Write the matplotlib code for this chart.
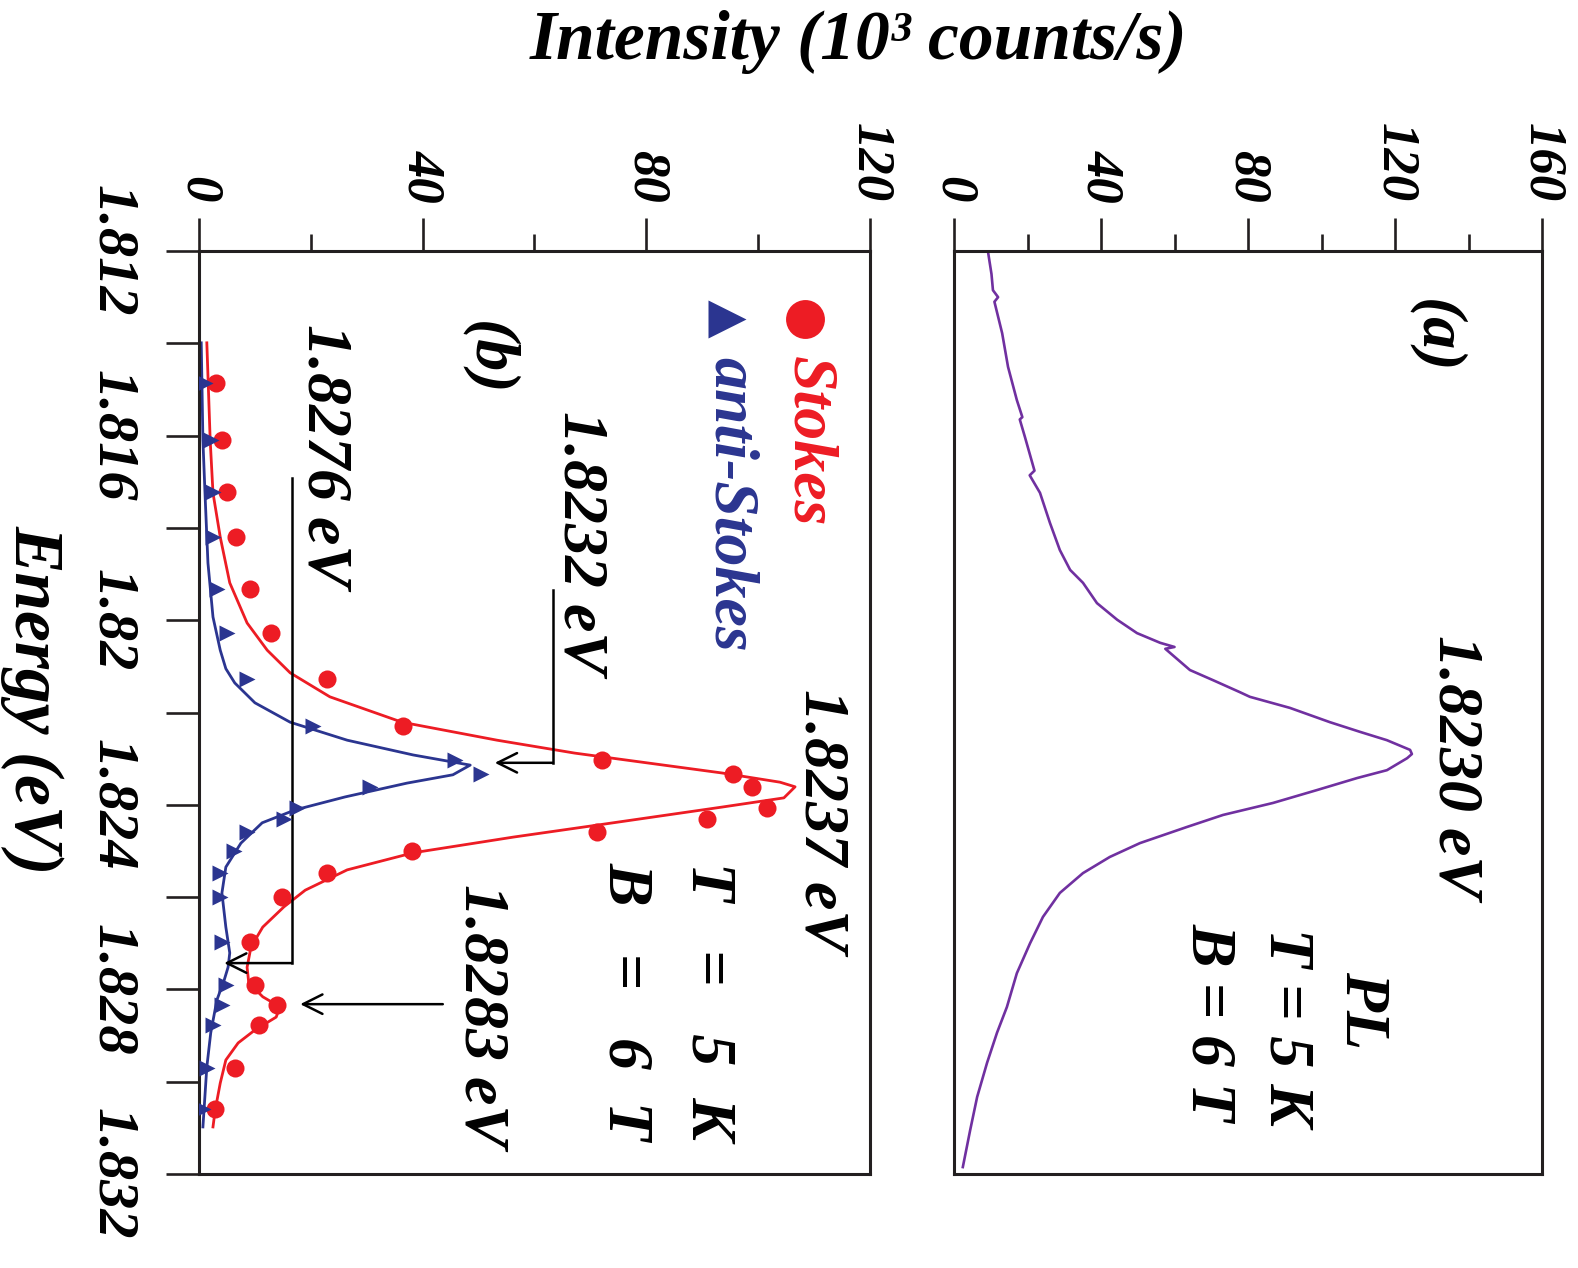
import matplotlib
matplotlib.use("Agg")
import matplotlib.pyplot as plt
from matplotlib.ticker import MultipleLocator, FixedLocator

plt.rcParams['font.family'] = ['Liberation Serif', 'DejaVu Serif']
plt.rcParams['font.weight'] = 'bold'
plt.rcParams['font.style'] = 'italic'

# ---------------- data ----------------
# panel (a): PL spectrum
pl_energy = [1.81204, 1.81250, 1.81285, 1.81300, 1.81310, 1.81378, 1.81451, 1.81523,
             1.81560, 1.81565, 1.81603, 1.81676, 1.81686, 1.81724, 1.81789, 1.81848,
             1.81891, 1.81919, 1.81963, 1.81999, 1.82028, 1.82049, 1.82058, 1.82062,
             1.82108, 1.82130, 1.82156, 1.82166, 1.82190, 1.82221, 1.82242, 1.82260,
             1.82281, 1.82290, 1.82299, 1.82325, 1.82342, 1.82368, 1.82396, 1.82422,
             1.82448, 1.82483, 1.82513, 1.82548, 1.82591, 1.82643, 1.82700, 1.82765,
             1.82838, 1.82894, 1.82959, 1.83033, 1.83105, 1.83185]
pl_intensity = [9.3, 10.2, 10.6, 12.0, 11.0, 13.1, 14.7, 17.1,
                18.6, 17.9, 19.3, 21.9, 20.6, 23.4, 26.1, 28.8,
                31.6, 35.1, 38.9, 44.4, 49.8, 56.1, 60.0, 57.5,
                64.2, 70.5, 77.8, 80.5, 91.4, 102.3, 110.5, 117.8,
                124.1, 124.6, 123.3, 117.8, 109.7, 98.8, 86.8, 73.2,
                63.4, 50.6, 42.4, 35.1, 28.8, 24.2, 20.7, 17.1,
                14.4, 11.7, 9.0, 6.3, 4.4, 2.4]

# panel (b): Raman data points
pt_energy = [1.81486, 1.81610, 1.81722, 1.81820, 1.81932, 1.82028, 1.82127, 1.82229,
             1.82303, 1.82333, 1.82361, 1.82407, 1.82431, 1.82459, 1.82500, 1.82548,
             1.82600, 1.82697, 1.82790, 1.82834, 1.82877, 1.82970, 1.83059]
stokes = [3.0, 4.1, 5.0, 6.6, 9.1, 12.9, 22.9, 36.5,
          72.1, 95.5, 98.9, 101.6, 90.8, 71.2, 38.1, 22.9,
          14.8, 9.1, 10.0, 13.9, 10.7, 6.4, 2.9]
anti_stokes = [1.1, 2.1, 2.5, 2.5, 3.2, 5.0, 8.6, 20.4,
               45.8, 50.4, 30.6, 17.5, 15.2, 8.6, 6.3, 3.8,
               3.8, 4.1, 4.8, 4.1, 2.5, 1.4, 0.7]

# panel (b): fitted curves
stokes_fit_energy = [1.81399, 1.81610, 1.81724, 1.81820, 1.81919, 1.82006, 1.82065, 1.82114,
                     1.82166, 1.82221, 1.82260, 1.82288, 1.82331, 1.82351, 1.82361, 1.82385,
                     1.82405, 1.82444, 1.82470, 1.82504, 1.82541, 1.82585, 1.82621, 1.82665,
                     1.82708, 1.82752, 1.82786, 1.82816, 1.82838, 1.82860, 1.82888, 1.82916,
                     1.82953, 1.83003, 1.83061, 1.83098]
stokes_fit = [1.4, 2.0, 2.5, 3.8, 5.5, 8.6, 12.2, 16.3,
              23.4, 36.3, 53.3, 67.2, 93.5, 103.9, 106.6, 104.6,
              93.5, 71.2, 56.2, 38.3, 26.5, 19.0, 15.2, 11.4,
              9.3, 8.6, 8.9, 11.4, 14.5, 13.8, 10.0, 7.0,
              4.8, 3.8, 2.9, 2.5]
anti_fit_energy = [1.81399, 1.81610, 1.81733, 1.81876, 1.81993, 1.82065, 1.82105, 1.82136,
                   1.82179, 1.82221, 1.82260, 1.82292, 1.82314, 1.82335, 1.82353, 1.82383,
                   1.82411, 1.82439, 1.82483, 1.82535, 1.82591, 1.82665, 1.82721, 1.82752,
                   1.82780, 1.82823, 1.82894, 1.82968, 1.83098]
anti_fit = [0.4, 0.7, 1.1, 1.6, 2.5, 3.8, 4.8, 6.4,
            10.0, 16.3, 26.5, 38.3, 48.5, 45.4, 37.2, 26.1,
            17.2, 11.3, 7.5, 4.8, 4.1, 4.8, 5.5, 5.2,
            4.5, 3.2, 2.1, 1.4, 0.7]

energy_ticks = [1.812, 1.816, 1.820, 1.824, 1.828, 1.832]
energy_labels = ['1.812', '1.816', '1.82', '1.824', '1.828', '1.832']

RED = '#ED1C24'
BLUE = '#2B3590'
PURPLE = '#7030A0'
INK = '#231F20'

W, H = 1578, 1268
fig = plt.figure(figsize=(W / 100, H / 100), dpi=100)


def box(x0, y0, x1, y1):
    return [x0 / W, 1 - y1 / H, (x1 - x0) / W, (y1 - y0) / H]


axb = fig.add_axes(box(199, 251, 870, 1174))
axa = fig.add_axes(box(954, 251, 1542, 1174))

for ax in (axa, axb):
    for sp in ax.spines.values():
        sp.set_linewidth(2.2)
        sp.set_color(INK)
    ax.set_ylim(1.832, 1.812)
    ax.xaxis.tick_top()
    ax.tick_params(axis='x', which='major', direction='out', length=24, width=1.9,
                   color=INK, labelsize=38, pad=11)
    ax.tick_params(axis='x', which='minor', direction='out', length=12, width=1.9, color=INK)
    ax.xaxis.set_minor_locator(MultipleLocator(20))
    ax.xaxis.set_major_locator(MultipleLocator(40))

axb.set_xlim(0, 120)
axa.set_xlim(0, 160)

# energy axis (only panel b shows ticks)
axb.yaxis.set_major_locator(FixedLocator(energy_ticks))
axb.set_yticklabels(energy_labels)
axb.yaxis.set_minor_locator(MultipleLocator(0.002))
axb.tick_params(axis='y', which='both', direction='out', length=24, width=1.9, color=INK,
                labelsize=42, pad=20)
axb.tick_params(axis='y', which='minor', length=24)
axa.tick_params(axis='y', which='both', left=False, labelleft=False)

for ax in (axa, axb):
    for lab in ax.get_xticklabels():
        lab.set_rotation(-90)
        lab.set_ha('center')
        lab.set_va('bottom')
for lab in axb.get_yticklabels():
    lab.set_rotation(-90)
    lab.set_va('center')
    lab.set_ha('right')

# ---------------- panel (a) ----------------
axa.plot(pl_intensity, pl_energy, color=PURPLE, lw=1.9)

tk = dict(rotation=-90, fontsize=46, color='k')
axa.text(130.9, 1.81384, '(a)', ha='center', va='center', **tk)
axa.text(136.1, 1.82316, '1.8230 eV', ha='center', va='center', **tk)
axa.text(110.7, 1.82845, 'PL', ha='center', va='center', **tk)
axa.text(90.1, 1.82881, 'T = 5 K', ha='center', va='center', **tk)
axa.text(69.1, 1.82871, 'B = 6 T', ha='center', va='center', **tk)

# ---------------- panel (b) ----------------
axb.plot(stokes_fit, stokes_fit_energy, color=RED, lw=2.0, zorder=2)
axb.plot(anti_fit, anti_fit_energy, color=BLUE, lw=2.0, zorder=2)
axb.plot(stokes, pt_energy, 'o', color=RED, ms=13, mec='none', zorder=3)
axb.plot(anti_stokes, pt_energy, '>', color=BLUE, ms=12, mec='none', zorder=3)

# legend
axb.plot([108.4], [1.81347], 'o', color=RED, ms=28, mec='none', clip_on=False)
axb.plot([94.4], [1.81347], '>', color=BLUE, ms=28, mec='none', clip_on=False)
axb.text(108.9, 1.81612, 'Stokes', ha='center', va='center', rotation=-90, fontsize=46, color=RED)
axb.text(95.0, 1.81750, 'anti-Stokes', ha='center', va='center', rotation=-90, fontsize=46, color=BLUE)

axb.text(51.7, 1.81433, '(b)', ha='center', va='center', **tk)
axb.text(111.1, 1.82433, '1.8237 eV', ha='center', va='center', **tk)
axb.text(91.0, 1.82523, 'T   =   5  K', ha='center', va='top', **tk)
axb.text(76.2, 1.82523, 'B   =   6  T', ha='center', va='top', **tk)
axb.text(68.1, 1.81831, '1.8232 eV', ha='center', va='center', **tk)
axb.text(22.2, 1.81644, '1.8276 eV', ha='center', va='center', **tk)
axb.text(50.3, 1.82856, '1.8283 eV', ha='center', va='center', **tk)

arrow = dict(arrowstyle='->', lw=1.8, color='k', mutation_scale=35, shrinkA=0, shrinkB=0)
# 1.8232 eV
axb.plot([63.3, 63.3], [1.81935, 1.82309], color='k', lw=1.8)
axb.annotate('', xy=(52.9, 1.82309), xytext=(63.3, 1.82309), arrowprops=arrow)
# 1.8276 eV
axb.plot([16.6, 16.6], [1.81692, 1.82743], color='k', lw=1.8)
axb.annotate('', xy=(4.5, 1.82743), xytext=(16.6, 1.82743), arrowprops=arrow)
# 1.8283 eV
axb.annotate('', xy=(18.1, 1.82832), xytext=(43.6, 1.82832), arrowprops=arrow)

# axis titles
fig.text(858 / W, 1 - 42 / H, 'Intensity (10³ counts/s)', ha='center', va='center',
         fontsize=50, color='k')
fig.text(33 / W, 1 - 700 / H, 'Energy (eV)', ha='center', va='center', rotation=-90,
         fontsize=50, color='k')

fig.savefig('out.png', dpi=100)
